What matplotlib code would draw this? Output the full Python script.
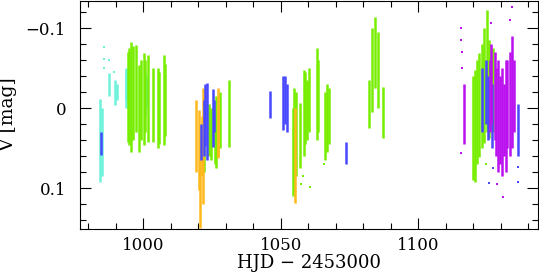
import matplotlib
matplotlib.use("Agg")
import matplotlib.pyplot as plt
from matplotlib.ticker import MultipleLocator

# ---------------- data (HJD-2453000, V range per night) ----------------
cyan_t  = [984.3, 984.9, 987.5, 989.6, 990.3, 993.6, 993.9, 1000.5, 1001.4]
cyan_lo = [-0.012, 0.000, -0.044, -0.035, -0.030, -0.048, -0.050, -0.045, -0.040]
cyan_hi = [0.092, 0.085, -0.015, -0.004, -0.010, 0.000, -0.010, 0.010, 0.000]
cyan_pt_t = [985.8, 985.8, 985.9, 987.5, 989.3]
cyan_pt_v = [-0.077, -0.062, -0.050, -0.060, -0.045]

green_t  = [994.3, 994.9, 995.7, 996.2, 997.4, 998.5, 999.0, 1000.1, 1000.8,
            1001.9, 1003.4, 1005.2, 1005.7, 1007.4, 1007.9,
            1022.2, 1023.8, 1024.7, 1025.9, 1026.6, 1028.0, 1031.2,
            1054.3, 1054.8, 1055.5, 1057.0, 1058.3, 1058.8, 1059.6, 1060.4,
            1063.0, 1063.6, 1066.0, 1066.7, 1067.5,
            1081.9, 1083.2, 1084.3, 1085.4, 1087.2,
            1120.0, 1120.6, 1121.5, 1122.2, 1123.0, 1124.0, 1124.8, 1125.6,
            1126.6, 1127.2]
green_lo = [-0.070, -0.075, -0.083, -0.078, -0.079, -0.054, -0.060, -0.069, -0.060,
            -0.067, -0.050, -0.050, -0.045, -0.067, -0.055,
            0.030, -0.005, 0.000, 0.010, -0.015, -0.020, -0.035,
            0.000, -0.025, -0.020, -0.007, -0.048, -0.045, -0.035, -0.050,
            -0.075, -0.060, -0.020, -0.030, -0.025,
            -0.035, -0.100, -0.114, -0.095, -0.027,
            -0.040, -0.048, -0.060, -0.069, -0.080, -0.100, -0.123, -0.085,
            -0.065, -0.075]
green_hi = [0.042, 0.046, 0.055, 0.040, 0.030, 0.055, 0.040, 0.046, 0.030,
            0.042, 0.042, 0.050, 0.045, 0.046, 0.035,
            0.080, 0.060, 0.065, 0.070, 0.075, 0.050, 0.048,
            0.110, 0.100, 0.085, 0.075, 0.060, 0.045, 0.040, 0.030,
            0.040, 0.030, 0.065, 0.055, 0.045,
            0.025, 0.005, -0.025, 0.000, 0.037,
            0.090, 0.092, 0.070, 0.061, 0.050, 0.043, 0.030, 0.037,
            0.020, 0.030]
green_pt_t = [1057.3, 1060.6, 1065.8, 1058.0, 1124.6]
green_pt_v = [0.095, 0.098, 0.070, 0.085, 0.070]

orange_t  = [1019.3, 1020.3, 1020.6, 1021.4, 1021.7, 1027.0, 1027.3, 1055.2]
orange_lo = [-0.010, 0.002, 0.030, 0.010, -0.025, -0.025, 0.000, 0.000]
orange_hi = [0.080, 0.102, 0.150, 0.085, 0.120, 0.062, 0.060, 0.118]

blue_t  = [984.6, 1020.9, 1021.9, 1022.4, 1023.2, 1025.3, 1025.6, 1046.0,
           1050.9, 1051.5, 1052.3, 1073.7, 1123.2, 1124.5, 1125.3, 1126.6, 1136.3]
blue_lo = [0.030, 0.020, -0.010, -0.030, -0.032, -0.024, -0.010, -0.022,
           -0.040, -0.040, -0.030, 0.042, -0.050, -0.060, -0.040, -0.030, -0.005]
blue_hi = [0.058, 0.065, 0.060, 0.047, 0.065, 0.048, 0.030, 0.012,
           0.027, 0.020, 0.030, 0.070, 0.030, 0.020, 0.040, 0.050, 0.060]
blue_pt_t = [1125.8, 1127.0, 1136.3, 1136.3]
blue_pt_v = [0.094, 0.075, 0.073, 0.092]

mag_t  = [1116.5, 1126.0, 1126.5, 1127.8, 1128.3, 1129.0, 1129.7, 1130.4,
          1131.0, 1131.7, 1132.4, 1133.2, 1134.0, 1134.6]
mag_lo = [-0.030, -0.060, -0.080, -0.070, -0.050, -0.060, -0.040, -0.050,
          -0.030, -0.060, -0.060, -0.070, -0.090, -0.060]
mag_hi = [0.045, 0.030, 0.020, 0.040, 0.060, 0.080, 0.070, 0.085,
          0.060, 0.080, 0.050, 0.060, 0.050, 0.030]
mag_pt_t = [1134.1, 1130.8, 1128.5, 1115.5, 1115.5, 1115.8, 1116.0, 1126.3, 1133.5, 1115.6]
mag_pt_v = [-0.127, 0.111, 0.095, -0.100, -0.085, -0.070, -0.050, -0.107, -0.110, 0.056]

xticks = [1000, 1050, 1100]
xtick_labels = ["1000", "1050", "1100"]
yticks = [-0.1, 0.0, 0.1]
ytick_labels = ["\u22120.1", "0", "0.1"]

# ---------------- style ----------------
C_CYAN = "#6FF2DA"
C_GREEN = "#77EE00"
C_ORANGE = "#FFB81C"
C_BLUE = "#4848FF"
C_MAG = "#BB11EE"

plt.rcParams['font.family'] = ['DejaVu Serif']

fig = plt.figure(figsize=(5.39, 2.73), dpi=100)
ax = fig.add_axes([80/539, 1-229/273, 458/539, 228.5/273])

lw = 1.8
ms = 2.0
groups = [
    (cyan_t, cyan_lo, cyan_hi, cyan_pt_t, cyan_pt_v, C_CYAN),
    (green_t, green_lo, green_hi, green_pt_t, green_pt_v, C_GREEN),
    (orange_t, orange_lo, orange_hi, [], [], C_ORANGE),
    (blue_t, blue_lo, blue_hi, blue_pt_t, blue_pt_v, C_BLUE),
    (mag_t, mag_lo, mag_hi, mag_pt_t, mag_pt_v, C_MAG),
]
for t, lo, hi, pt, pv, c in groups:
    ax.vlines(t, lo, hi, colors=c, linewidth=lw)
    if pt:
        ax.plot(pt, pv, 's', color=c, markersize=ms, markeredgewidth=0)

ax.set_xlim(977, 1143.5)
ax.set_ylim(0.151, -0.135)

ax.set_xticks(xticks, labels=xtick_labels)
ax.set_yticks(yticks, labels=ytick_labels)
ax.xaxis.set_minor_locator(MultipleLocator(10))
ax.yaxis.set_minor_locator(MultipleLocator(0.02))
ax.tick_params(which='both', direction='in', top=True, right=True, width=0.8,
               labelsize=12)
ax.tick_params(which='major', length=8)
ax.tick_params(which='minor', length=4)
ax.tick_params(axis='y', pad=10)
ax.tick_params(axis='x', pad=5.5)
for s in ax.spines.values():
    s.set_linewidth(0.8)

ax.set_xlabel("HJD \u2212 2453000", fontsize=13, labelpad=0.5)
ax.set_ylabel("V [mag]", fontsize=13.5, labelpad=6)

fig.savefig("out.png", dpi=100)
